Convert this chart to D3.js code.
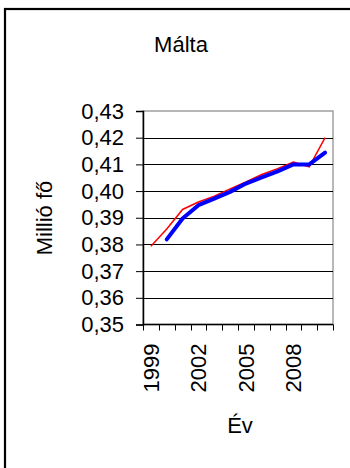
<!DOCTYPE html>
<html>
<head>
<meta charset="utf-8">
<script src="https://cdn.jsdelivr.net/npm/d3@7"></script>
<style>
  body { margin: 0; background: #fff; }
  text { font-family: "Liberation Sans", Arial, sans-serif; fill: #000; }
</style>
</head>
<body>
<svg id="chart" width="350" height="468"></svg>
<script>
// data
var years = [1999, 2000, 2001, 2002, 2003, 2004, 2005, 2006, 2007, 2008, 2009, 2010];
var redValues = [0.3793, 0.3858, 0.3931, 0.3959, 0.3981, 0.4008, 0.4034, 0.4062, 0.4084, 0.4109, 0.4091, 0.4200];
var blueValues = [null, 0.3819, 0.3897, 0.3947, 0.3972, 0.3997, 0.4028, 0.4051, 0.4074, 0.4100, 0.4100, 0.4144];
var yTicks = [0.35, 0.36, 0.37, 0.38, 0.39, 0.40, 0.41, 0.42, 0.43];
var xLabels = [1999, 2002, 2005, 2008];

var svg = d3.select("#chart");

// plot area box
var plotLeft = 143, plotRight = 333, plotTop = 111, plotBottom = 324.5;

var x = d3.scaleBand().domain(years).range([plotLeft, plotRight]).padding(0);
var y = d3.scaleLinear().domain([0.35, 0.43]).range([plotBottom, plotTop]);

// outer frame (runs off the right and bottom of the picture)
svg.append("rect")
  .attr("x", 5)
  .attr("y", 9)
  .attr("width", 420)
  .attr("height", 520)
  .attr("fill", "none")
  .attr("stroke", "#000")
  .attr("stroke-width", 2.2);

svg.append("text")
  .attr("x", 181)
  .attr("y", 52)
  .attr("text-anchor", "middle")
  .style("font-size", "22px")
  .text("Málta");

// plot area border
svg.append("rect")
  .attr("x", plotLeft)
  .attr("y", plotTop)
  .attr("width", plotRight - plotLeft)
  .attr("height", plotBottom - plotTop)
  .attr("fill", "none")
  .attr("stroke", "#a0a0a0")
  .attr("stroke-width", 1.5);

// gridlines
svg.append("g")
  .selectAll("line")
  .data(yTicks.slice(1, -1))
  .enter()
  .append("line")
  .attr("x1", plotLeft)
  .attr("x2", plotRight)
  .attr("y1", function(d) { return Math.round(y(d)) + 0.5; })
  .attr("y2", function(d) { return Math.round(y(d)) + 0.5; })
  .attr("stroke", "#000")
  .attr("stroke-width", 1);

// y axis
var yAxis = d3.axisLeft(y)
  .tickValues(yTicks)
  .tickSize(7)
  .tickPadding(12)
  .tickFormat(function(d) { return d3.format(".2f")(d).replace(".", ","); });

var gy = svg.append("g")
  .attr("transform", "translate(" + plotLeft + ",0)")
  .call(yAxis);
gy.select(".domain").attr("stroke", "#000").attr("stroke-width", 1.5);
gy.selectAll(".tick line").attr("stroke", "#000");
gy.selectAll(".tick text")
  .attr("fill", "#000")
  .style("font-size", "22px")
  .style("font-family", "'Liberation Sans', Arial, sans-serif");

// x axis line and ticks at category boundaries
svg.append("line")
  .attr("x1", plotLeft)
  .attr("x2", plotRight)
  .attr("y1", plotBottom)
  .attr("y2", plotBottom)
  .attr("stroke", "#000")
  .attr("stroke-width", 1.5);

var boundaries = years.map(function(d) { return x(d); }).concat([x(years[years.length - 1]) + x.bandwidth()]);
svg.append("g")
  .selectAll("line")
  .data(boundaries)
  .enter()
  .append("line")
  .attr("x1", function(d) { return Math.round(d) + 0.5; })
  .attr("x2", function(d) { return Math.round(d) + 0.5; })
  .attr("y1", plotBottom)
  .attr("y2", plotBottom + 6)
  .attr("stroke", "#000");

svg.append("g")
  .selectAll("text")
  .data(xLabels)
  .enter()
  .append("text")
  .attr("transform", function(d) {
    return "translate(" + (x(d) + x.bandwidth() / 2 + 8) + "," + (plotBottom + 19) + ") rotate(-90)";
  })
  .attr("text-anchor", "end")
  .style("font-size", "22px")
  .text(function(d) { return d; });

// axis titles
svg.append("text")
  .attr("transform", "translate(52,218) rotate(-90)")
  .attr("text-anchor", "middle")
  .style("font-size", "22px")
  .text("Millió fő");

svg.append("text")
  .attr("x", 240)
  .attr("y", 433)
  .attr("text-anchor", "middle")
  .style("font-size", "22px")
  .text("Év");

// series
var line = d3.line()
  .defined(function(d) { return d[1] != null; })
  .x(function(d) { return x(d[0]) + x.bandwidth() / 2; })
  .y(function(d) { return y(d[1]); });

svg.append("path")
  .datum(years.map(function(d, i) { return [d, redValues[i]]; }))
  .attr("fill", "none")
  .attr("stroke", "#ff0000")
  .attr("stroke-width", 1.5)
  .attr("d", line);

svg.append("path")
  .datum(years.map(function(d, i) { return [d, blueValues[i]]; }))
  .attr("fill", "none")
  .attr("stroke", "#0000ff")
  .attr("stroke-width", 4)
  .attr("stroke-linecap", "round")
  .attr("stroke-linejoin", "round")
  .attr("d", line);
</script>
</body>
</html>
